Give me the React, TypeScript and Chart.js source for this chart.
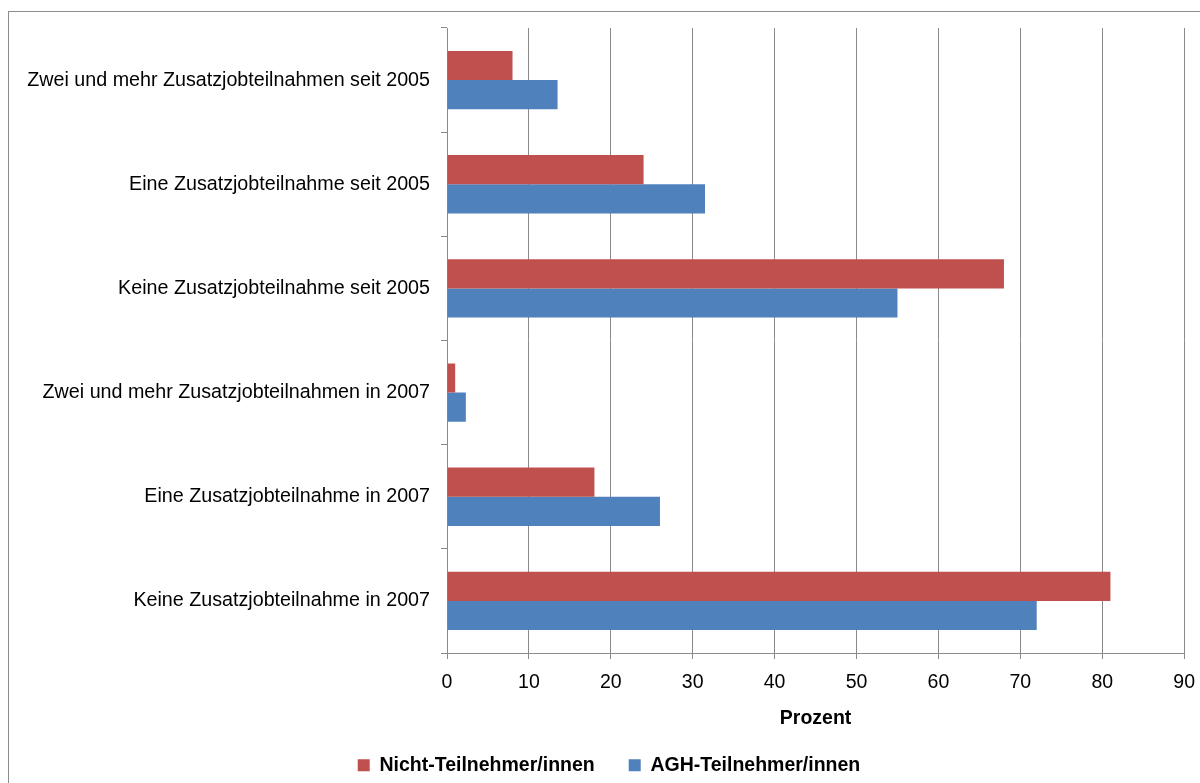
import React, { useEffect, useRef } from "react";
import { Chart, registerables } from "chart.js";

Chart.register(...registerables);

// Categories, listed top to bottom
const categories = [
  "Zwei und mehr Zusatzjobteilnahmen seit 2005",
  "Eine Zusatzjobteilnahme seit 2005",
  "Keine Zusatzjobteilnahme seit 2005",
  "Zwei und mehr Zusatzjobteilnahmen in 2007",
  "Eine Zusatzjobteilnahme in 2007",
  "Keine Zusatzjobteilnahme in 2007",
];

const seriesNames = ["Nicht-Teilnehmer/innen", "AGH-Teilnehmer/innen"];

// Percent values per category
const nichtTeilnehmer = [8, 24, 68, 1, 18, 81];
const aghTeilnehmer = [13.5, 31.5, 55, 2.3, 26, 72];

// Percent axis
const axisMin = 0;
const axisMax = 90;
const axisStep = 10;
const axisTitle = "Prozent";

const RED = "#C0504D";
const BLUE = "#4F81BD";
const GRID = "#8a8a8a";
const FONT = "'Liberation Sans', Arial, sans-serif";

// The canvas is slightly wider than the visible frame; the extra strip is clipped.
const CANVAS_W = 1207;
const CANVAS_H = 785;
const PAD_LEFT = 11;
const PLOT_LEFT = 447;

export default function App() {
  const canvasRef = useRef<HTMLCanvasElement | null>(null);

  useEffect(() => {
    const canvas = canvasRef.current;
    if (!canvas) return;
    Chart.defaults.font.family = FONT;
    Chart.defaults.color = "#000000";

    const chart = new Chart(canvas, {
      type: "bar",
      data: {
        labels: categories,
        datasets: [
          {
            label: seriesNames[0],
            data: nichtTeilnehmer,
            backgroundColor: RED,
            borderWidth: 0,
            categoryPercentage: 0.56,
            barPercentage: 1,
          },
          {
            label: seriesNames[1],
            data: aghTeilnehmer,
            backgroundColor: BLUE,
            borderWidth: 0,
            categoryPercentage: 0.56,
            barPercentage: 1,
          },
        ],
      },
      options: {
        indexAxis: "y",
        responsive: false,
        animation: false,
        layout: { padding: { left: PAD_LEFT, right: 0, top: 28, bottom: 0 } },
        plugins: {
          tooltip: { enabled: false },
          legend: {
            position: "bottom",
            align: "center",
            labels: {
              boxWidth: 12,
              boxHeight: 12,
              padding: 34,
              color: "#000000",
              font: { size: 19.5, weight: "bold", family: FONT },
            },
          },
        },
        scales: {
          x: {
            type: "linear",
            min: axisMin,
            max: axisMax,
            ticks: {
              stepSize: axisStep,
              padding: 12,
              color: "#000000",
              font: { size: 19.5, family: FONT },
            },
            grid: {
              color: GRID,
              lineWidth: 1,
              drawTicks: true,
              tickLength: 6,
            },
            border: { display: true, color: GRID, width: 1 },
            title: {
              display: true,
              text: axisTitle,
              color: "#000000",
              font: { size: 19.5, weight: "bold", family: FONT },
              padding: { top: 0, bottom: -9 },
            },
            afterFit: (scale: any) => {
              scale.height = 68.5;
            },
          },
          y: {
            type: "category",
            offset: true,
            ticks: {
              padding: 11,
              color: "#000000",
              font: { size: 19.7, family: FONT },
            },
            grid: {
              offset: true,
              drawOnChartArea: false,
              drawTicks: true,
              tickLength: 6,
              color: GRID,
              lineWidth: 1,
            },
            border: { display: true, color: GRID, width: 1 },
            afterFit: (scale: any) => {
              scale.width = PLOT_LEFT - PAD_LEFT;
            },
          },
        },
      },
    });

    return () => chart.destroy();
  }, []);

  return (
    <div
      style={{
        position: "fixed",
        left: 0,
        top: 0,
        width: 1200,
        height: 783,
        overflow: "hidden",
        background: "#ffffff",
      }}
    >
      <div
        style={{
          position: "absolute",
          left: 8,
          top: 11,
          width: 1240,
          height: 820,
          border: "1.5px solid #8c8c8c",
          boxSizing: "border-box",
        }}
      />
      <canvas
        ref={canvasRef}
        width={CANVAS_W}
        height={CANVAS_H}
        style={{ position: "absolute", left: 0, top: 0, width: CANVAS_W, height: CANVAS_H }}
      />
    </div>
  );
}
